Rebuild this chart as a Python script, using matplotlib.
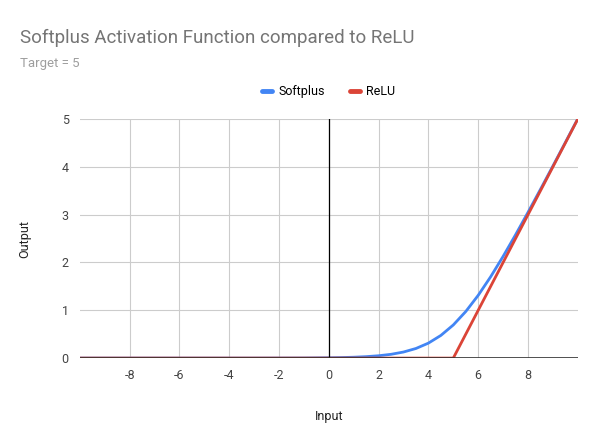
import matplotlib.pyplot as plt

plt.rcParams["font.family"] = "Roboto"
plt.rcParams["axes.unicode_minus"] = False

# values
inputs = [-10, -9, -8, -7, -6, -5, -4, -3, -2, -1, 0, 0.5, 1, 1.5, 2, 2.5, 3, 3.5,
          4, 4.5, 5, 5.5, 6, 6.5, 7, 7.5, 8, 8.5, 9, 9.5, 10]
softplus = [0.0, 0.0, 0.0, 0.0, 0.0, 0.0, 0.0, 0.0, 0.001, 0.002, 0.007, 0.011, 0.018,
            0.030, 0.049, 0.079, 0.127, 0.201, 0.313, 0.474, 0.693, 0.974, 1.313,
            1.701, 2.127, 2.579, 3.049, 3.530, 4.018, 4.511, 5.007]
relu_x = [-10, 5, 10]
relu_y = [0, 0, 5]
x_ticks = [-8, -6, -4, -2, 0, 2, 4, 6, 8]
y_ticks = [0, 1, 2, 3, 4, 5]

fig = plt.figure(figsize=(6, 4.33), dpi=100)
ax = fig.add_axes([0.133, 0.173, 0.83, 0.552])

ax.plot(inputs, softplus, color="#4285F4", linewidth=2, label="Softplus")
ax.plot(relu_x, relu_y, color="#DB4437", linewidth=2, label="ReLU")

ax.set_xlim(-10, 10)
ax.set_ylim(0, 5)
ax.set_xticks(x_ticks)
ax.set_yticks(y_ticks)
ax.grid(True, color="#cccccc", linewidth=0.8)
ax.axvline(0, color="black", linewidth=0.9)
ax.axhline(0, color="#333333", linewidth=1.2)
for s in ax.spines.values():
    s.set_visible(False)
ax.tick_params(length=0, labelsize=9, colors="#444444", pad=8)

ax.set_xlabel("Input", fontsize=9, color="#222222", labelpad=20)
ax.set_ylabel("Output", fontsize=9, color="#222222", labelpad=22)

fig.text(0.033, 0.9, "Softplus Activation Function compared to ReLU",
         fontsize=13.5, color="#757575")
fig.text(0.033, 0.845, "Target = 5", fontsize=9.5, color="#9e9e9e")
ax.legend(loc="lower center", bbox_to_anchor=(0.5, 1.04), ncol=2, frameon=False,
          fontsize=9, handlelength=0.8, handletextpad=0.5, columnspacing=2)
for line in ax.get_legend().get_lines():
    line.set_linewidth(3.5)
    line.set_solid_capstyle("round")

fig.savefig("out.png")
